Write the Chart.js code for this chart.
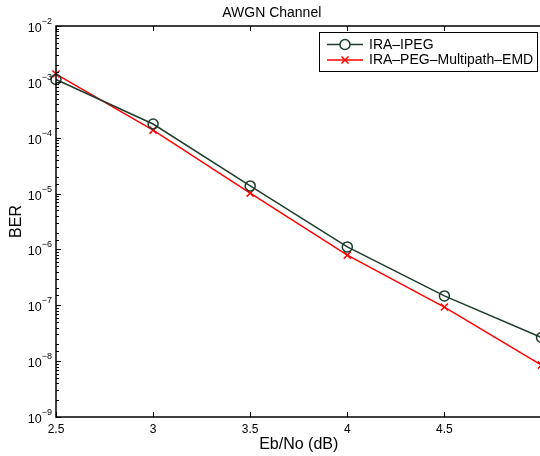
<!DOCTYPE html>
<html lang="en">

<head>
    <meta charset="UTF-8" />
    <title>AWGN Channel</title>
    <script src="https://cdn.jsdelivr.net/npm/chart.js"></script>
    <style>
        html,
        body {
            margin: 0;
            padding: 0;
            background: #ffffff;
            overflow: hidden;
        }

        /* a little wider than the window: the right axis is cut off, like the figure */
        .wrap {
            width: 548px;
            height: 456px;
        }
    </style>
</head>

<body>
    <div class="wrap">
        <canvas id="berChart"></canvas>
    </div>

    <script>
        // values
        const ebNo = [2.5, 3, 3.5, 4, 4.5, 5];
        const berIpeg = [1.1e-3, 1.76e-4, 1.37e-5, 1.11e-6, 1.47e-7, 2.65e-8];
        const berMultipath = [1.38e-3, 1.37e-4, 1.02e-5, 7.9e-7, 9.3e-8, 8.5e-9];
        const xTicks = [2.5, 3, 3.5, 4, 4.5, 5];
        const seriesNames = ["IRA\u2013IPEG", "IRA\u2013PEG\u2013Multipath\u2013EMD"];

        const FONT = "'Liberation Sans', Arial, Helvetica, sans-serif";
        const green = "#1e3d2b";
        const red = "#ff0000";

        function isDecade(v) {
            const e = Math.log10(v);
            return Math.abs(e - Math.round(e)) < 1e-6;
        }

        // box, inward ticks, 10^n labels (matlab style) and the boxed legend
        const matlabAxes = {
            id: "matlabAxes",
            afterDatasetsDraw(chart) {
                const { ctx, chartArea: a, scales } = chart;
                const x = scales.x, y = scales.y;
                ctx.save();
                ctx.strokeStyle = "#000";
                ctx.lineWidth = 1;

                ctx.beginPath();
                xTicks.forEach(v => {
                    const px = Math.round(x.getPixelForValue(v)) + 0.5;
                    ctx.moveTo(px, a.bottom);
                    ctx.lineTo(px, a.bottom - 5);
                    ctx.moveTo(px, a.top);
                    ctx.lineTo(px, a.top + 5);
                });
                y.ticks.forEach(t => {
                    const py = Math.round(y.getPixelForValue(t.value)) + 0.5;
                    ctx.moveTo(a.left, py);
                    ctx.lineTo(a.left + (isDecade(t.value) ? 5 : 3), py);
                });
                ctx.stroke();

                ctx.lineWidth = 1.5;
                ctx.strokeRect(a.left, a.top, a.right - a.left, a.bottom - a.top);

                // y labels: "10" with a raised exponent
                ctx.fillStyle = "#000";
                ctx.textAlign = "left";
                ctx.textBaseline = "alphabetic";
                y.ticks.filter(t => isDecade(t.value)).forEach(t => {
                    const py = y.getPixelForValue(t.value);
                    const exp = "\u2212" + String(-Math.round(Math.log10(t.value)));
                    ctx.font = "9px " + FONT;
                    const ew = ctx.measureText(exp).width;
                    ctx.fillText(exp, a.left - 4 - ew, py - 2);
                    ctx.font = "12.5px " + FONT;
                    const bw = ctx.measureText("10").width;
                    ctx.fillText("10", a.left - 4 - ew - bw, py + 6);
                });

                // legend
                const lx = 319, ly = 32, lw = 218, lh = 39;
                ctx.fillStyle = "#fff";
                ctx.fillRect(lx, ly, lw, lh);
                ctx.lineWidth = 1;
                ctx.strokeRect(lx + 0.5, ly + 0.5, lw, lh);
                ctx.font = "14px " + FONT;
                ctx.textBaseline = "middle";
                chart.data.datasets.forEach((ds, i) => {
                    const cy = ly + 12.5 + i * 15.5;
                    ctx.strokeStyle = ds.borderColor;
                    ctx.lineWidth = 1.5;
                    ctx.beginPath();
                    ctx.moveTo(327, cy);
                    ctx.lineTo(363, cy);
                    ctx.stroke();
                    Chart.helpers.drawPoint(ctx, {
                        pointStyle: ds.pointStyle,
                        radius: ds.pointRadius,
                        borderWidth: ds.pointBorderWidth
                    }, 345, cy);
                    ctx.fillStyle = "#000";
                    ctx.fillText(ds.label, 369, cy + 0.5);
                });
                ctx.restore();
            },
        };

        const ctxBer = document.getElementById("berChart").getContext("2d");
        const berChart = new Chart(ctxBer, {
            type: "line",
            data: {
                datasets: [
                    {
                        label: seriesNames[0],
                        data: ebNo.map((v, i) => ({ x: v, y: berIpeg[i] })),
                        borderColor: green,
                        backgroundColor: "transparent",
                        borderWidth: 1.5,
                        pointStyle: "circle",
                        pointRadius: 5,
                        pointBorderWidth: 1.5,
                        pointBorderColor: green,
                        pointBackgroundColor: "transparent",
                        clip: false,
                    },
                    {
                        label: seriesNames[1],
                        data: ebNo.map((v, i) => ({ x: v, y: berMultipath[i] })),
                        borderColor: red,
                        backgroundColor: "transparent",
                        borderWidth: 1.5,
                        pointStyle: "crossRot",
                        pointRadius: 5,
                        pointBorderWidth: 1.5,
                        pointBorderColor: red,
                        clip: false,
                    },
                ],
            },
            options: {
                responsive: true,
                maintainAspectRatio: false,
                animation: false,
                layout: { padding: { left: 0, right: 4.5, top: 0, bottom: 0 } },
                plugins: {
                    legend: { display: false },
                    tooltip: { enabled: false },
                    title: {
                        display: true,
                        text: "AWGN Channel",
                        color: "#000",
                        font: { family: FONT, size: 14, weight: "normal" },
                        padding: { top: 4.6, bottom: 4.6 },
                    },
                },
                scales: {
                    x: {
                        type: "linear",
                        min: 2.5,
                        max: 5,
                        afterFit: s => { s.height = 39; },
                        afterBuildTicks: s => { s.ticks = xTicks.map(v => ({ value: v })); },
                        grid: { display: false, drawTicks: false },
                        border: { display: false },
                        ticks: {
                            color: "#000",
                            padding: 5,
                            font: { family: FONT, size: 12 },
                            callback: v => (v === 5 ? "" : String(v)),
                        },
                        title: {
                            display: true,
                            text: "Eb/No (dB)",
                            color: "#000",
                            font: { family: FONT, size: 16 },
                            padding: { top: 0, bottom: 2 },
                        },
                    },
                    y: {
                        type: "logarithmic",
                        min: 1e-9,
                        max: 1e-2,
                        afterFit: s => { s.width = 56; },
                        grid: { display: false, drawTicks: false },
                        border: { display: false },
                        ticks: {
                            autoSkip: false,
                            // labels are drawn by the matlabAxes plugin
                            callback: () => "",
                        },
                        title: {
                            display: true,
                            text: "BER",
                            color: "#000",
                            font: { family: FONT, size: 16 },
                            padding: { top: 7, bottom: 0 },
                        },
                    },
                },
            },
            plugins: [matlabAxes],
        });
    </script>
</body>

</html>
